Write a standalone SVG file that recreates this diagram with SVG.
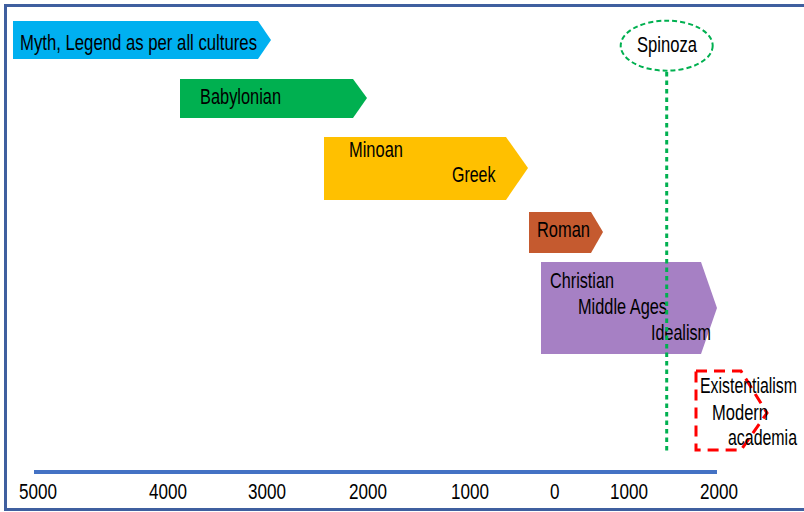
<svg xmlns="http://www.w3.org/2000/svg" width="804" height="512" viewBox="0 0 804 512">
<style>
text{font-family:"Liberation Sans Narrow","Arial Narrow","Liberation Sans",Arial,sans-serif;font-size:21.5px;fill:#000;}
.frame{fill:#fff;stroke:#3f5f9f;stroke-width:3;}
.ax{stroke:#4472c4;stroke-width:4;fill:none;}
.spin{fill:none;stroke:#00b050;stroke-width:2;stroke-dasharray:5 3;}
.dot{stroke:#00b050;stroke-width:3;stroke-dasharray:4.5 4;fill:none;}
.exist{fill:none;stroke:#ff0000;stroke-width:3;stroke-dasharray:11 7;}
</style>
<rect class="frame" x="5.5" y="5.5" width="830" height="504"/>
<g id="myth">
<polygon points="13,21 258,21 271,40 258,59 13,59" fill="#00b0f0"/>
<text x="20" y="50" textLength="237" lengthAdjust="spacingAndGlyphs">Myth, Legend as per all cultures</text>
</g>
<g id="babylonian">
<polygon points="180,79 353,79 367,98 353,118 180,118" fill="#00b050"/>
<text x="200" y="104" textLength="81" lengthAdjust="spacingAndGlyphs">Babylonian</text>
</g>
<g id="minoan-greek">
<polygon points="324,137 506,137 528,168 506,200 324,200" fill="#ffc000"/>
<text x="349" y="157" textLength="54" lengthAdjust="spacingAndGlyphs">Minoan</text>
<text x="452" y="182" textLength="43.5" lengthAdjust="spacingAndGlyphs">Greek</text>
</g>
<g id="roman">
<polygon points="529,212 591,212 603,232 591,253 529,253" fill="#c55a2f"/>
<text x="537" y="237" textLength="53" lengthAdjust="spacingAndGlyphs">Roman</text>
</g>
<g id="christian">
<polygon points="541,262 701,262 717,308 701,354 541,354" fill="#a680c4"/>
<text x="550" y="288" textLength="64" lengthAdjust="spacingAndGlyphs">Christian</text>
<text x="578" y="314" textLength="89" lengthAdjust="spacingAndGlyphs">Middle Ages</text>
<text x="651" y="340" textLength="60" lengthAdjust="spacingAndGlyphs">Idealism</text>
</g>
<g id="connectors">
<line class="dot" x1="666.7" y1="72" x2="666.7" y2="454"/>
</g>
<g id="spinoza">
<ellipse class="spin" cx="666.7" cy="45.7" rx="46" ry="25"/>
<text x="637" y="52" textLength="60" lengthAdjust="spacingAndGlyphs">Spinoza</text>
</g>
<g id="existentialism">
<polygon class="exist" points="696,371 741,371 767,413 741,450 696,450"/>
<text x="700" y="393" textLength="97" lengthAdjust="spacingAndGlyphs">Existentialism</text>
<text x="712" y="420" textLength="56" lengthAdjust="spacingAndGlyphs">Modern</text>
<text x="728" y="445" textLength="69" lengthAdjust="spacingAndGlyphs">academia</text>
</g>
<g id="axis">
<line class="ax" x1="34" y1="472" x2="717" y2="472"/>
<text x="19" y="499" textLength="38" lengthAdjust="spacingAndGlyphs">5000</text>
<text x="149" y="499" textLength="38" lengthAdjust="spacingAndGlyphs">4000</text>
<text x="248" y="499" textLength="38" lengthAdjust="spacingAndGlyphs">3000</text>
<text x="349" y="499" textLength="38" lengthAdjust="spacingAndGlyphs">2000</text>
<text x="451" y="499" textLength="38" lengthAdjust="spacingAndGlyphs">1000</text>
<text x="550" y="499" textLength="9.5" lengthAdjust="spacingAndGlyphs">0</text>
<text x="610" y="499" textLength="38" lengthAdjust="spacingAndGlyphs">1000</text>
<text x="700" y="499" textLength="38" lengthAdjust="spacingAndGlyphs">2000</text>
</g>
</svg>
